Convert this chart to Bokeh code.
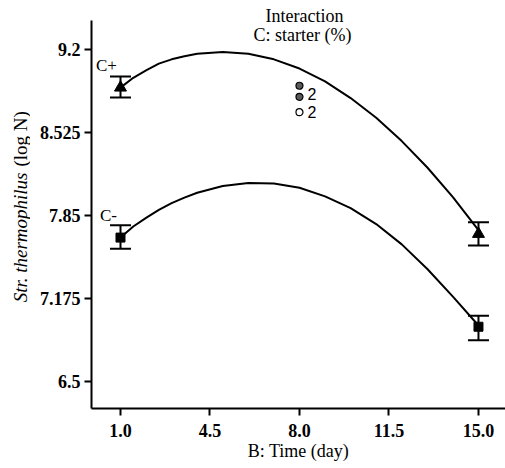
import math

from bokeh.embed import file_html
from bokeh.layouts import row
from bokeh.models import ColumnDataSource, FixedTicker, Label, Range1d, TeeHead, Whisker
from bokeh.plotting import figure
from bokeh.resources import INLINE

# Measured means with their error limits (start and end of storage)
days = [1.0, 15.0]
c_plus_mean = [8.89, 7.70]
c_plus_upper = [8.98, 7.795]
c_plus_lower = [8.81, 7.605]
c_minus_mean = [7.67, 6.945]
c_minus_upper = [7.77, 7.035]
c_minus_lower = [7.58, 6.835]

# Model prediction curves over the storage time
fit_days = [1, 1.5, 2, 2.5, 3, 3.5, 4, 5, 6, 7, 8, 9, 10, 11, 12, 13, 14, 15]
c_plus_fit = [8.89, 8.97, 9.03, 9.085, 9.12, 9.145, 9.165, 9.18, 9.165, 9.12,
              9.045, 8.94, 8.805, 8.645, 8.455, 8.24, 8.0, 7.73]
c_minus_fit = [7.67, 7.76, 7.83, 7.895, 7.95, 7.995, 8.035, 8.09, 8.115, 8.11,
               8.075, 8.005, 7.91, 7.78, 7.615, 7.415, 7.19, 6.955]

# Design points at the centre of the time range
design_day = [8.0, 8.0, 8.0]
design_value = [8.905, 8.815, 8.69]
design_fill = ["#5a5a5a", "#5a5a5a", "white"]
design_count = ["2", "2"]

x_ticks = [1.0, 4.5, 8.0, 11.5, 15.0]
x_tick_labels = ["1.0", "4.5", "8.0", "11.5", "15.0"]
y_ticks = [6.5, 7.175, 7.85, 8.525, 9.2]
y_tick_labels = ["6.5", "7.175", "7.85", "8.525", "9.2"]

SERIF = "Liberation Serif"

# Narrow strip holding the two-style y-axis title (its frame lines up with the plot's)
title_strip = figure(width=30, height=468, output_backend="svg", toolbar_location=None,
                     x_range=Range1d(0, 30), y_range=Range1d(0, 408),
                     x_axis_location=None, y_axis_location=None, min_border=0)
title_strip.outline_line_color = None
title_strip.grid.grid_line_color = None
title_strip.add_layout(Label(x=20, y=236, x_units="screen", y_units="screen",
                             text="Str. thermophilus", angle=math.pi / 2,
                             text_align="right", text_baseline="middle",
                             text_font=SERIF, text_font_size="19px",
                             text_font_style="italic", text_color="black"))
title_strip.add_layout(Label(x=20, y=242, x_units="screen", y_units="screen",
                             text="(log N)", angle=math.pi / 2, text_align="left",
                             text_baseline="middle", text_font=SERIF,
                             text_font_size="19px", text_color="black"))

p = figure(width=475, height=468, output_backend="svg", toolbar_location=None,
           x_range=Range1d(-0.134, 16.057), y_range=Range1d(6.280, 9.5985),
           min_border_left=61, min_border_right=0, min_border_top=0,
           min_border_bottom=60)
p.outline_line_color = None
p.grid.grid_line_color = None
p.background_fill_color = "white"
p.border_fill_color = "white"

for ax in (p.xaxis[0], p.yaxis[0]):
    ax.axis_line_width = 2
    ax.axis_line_color = "black"
    ax.major_tick_in = 0
    ax.major_tick_out = 7
    ax.major_tick_line_width = 2
    ax.major_tick_line_color = "black"
    ax.minor_tick_line_color = None
    ax.major_label_text_font = SERIF
    ax.major_label_text_font_size = "18px"
    ax.major_label_text_font_style = "bold"
    ax.major_label_text_color = "black"

p.xaxis.ticker = FixedTicker(ticks=x_ticks)
p.xaxis.major_label_overrides = dict(zip(x_ticks, x_tick_labels))
p.xaxis.major_label_standoff = 8
p.xaxis.axis_label = "B: Time (day)"
p.xaxis.axis_label_text_font = SERIF
p.xaxis.axis_label_text_font_size = "18px"
p.xaxis.axis_label_text_font_style = "normal"
p.xaxis.axis_label_text_color = "black"
p.xaxis.axis_label_standoff = 1

p.yaxis.ticker = FixedTicker(ticks=y_ticks)
p.yaxis.major_label_overrides = dict(zip(y_ticks, y_tick_labels))
p.yaxis.major_label_standoff = 4
p.yaxis.bounds = (6.280, 9.436)

# Fitted curves
p.line(fit_days, c_plus_fit, line_color="black", line_width=2, line_join="round")
p.line(fit_days, c_minus_fit, line_color="black", line_width=2, line_join="round")

# Error bars
for upper, lower in ((c_plus_upper, c_plus_lower), (c_minus_upper, c_minus_lower)):
    src = ColumnDataSource(dict(base=days, upper=upper, lower=lower))
    p.add_layout(Whisker(source=src, base="base", upper="upper", lower="lower",
                         dimension="height", line_width=2, line_color="black",
                         upper_head=TeeHead(size=21, line_width=2, line_color="black"),
                         lower_head=TeeHead(size=21, line_width=2, line_color="black")))

p.scatter(days, c_plus_mean, marker="triangle", size=12, fill_color="black",
          line_color="black")
p.scatter(days, c_minus_mean, marker="square", size=9, fill_color="black",
          line_color="black")

# Design points and their replicate counts
p.scatter(design_day, design_value, marker="circle", size=7,
          fill_color=design_fill, line_color="black", line_width=1.2)
for idx, count, dy in ((1, design_count[0], 3), (2, design_count[1], 0)):
    p.add_layout(Label(x=design_day[idx], y=design_value[idx], text=count,
                       x_offset=8, y_offset=dy, text_align="left",
                       text_baseline="middle", text_font="Liberation Sans",
                       text_font_size="16px", text_color="black"))

# Series labels
p.add_layout(Label(x=days[0], y=c_plus_mean[0], text="C+", x_offset=-14,
                   y_offset=22, text_align="center", text_baseline="middle",
                   text_font=SERIF, text_font_size="17px", text_color="black"))
p.add_layout(Label(x=days[0], y=c_minus_mean[0], text="C-", x_offset=-12,
                   y_offset=22, text_align="center", text_baseline="middle",
                   text_font=SERIF, text_font_size="17px", text_color="black"))

# Interaction heading
p.add_layout(Label(x=213, y=393, x_units="screen", y_units="screen",
                   text="Interaction", text_align="center", text_baseline="middle",
                   text_font=SERIF, text_font_size="18px", text_color="black"))
p.add_layout(Label(x=211, y=374, x_units="screen", y_units="screen",
                   text="C: starter (%)", text_align="center", text_baseline="middle",
                   text_font=SERIF, text_font_size="18px", text_color="black"))

open("out.html", "w").write(file_html(row(title_strip, p, spacing=0), INLINE))
